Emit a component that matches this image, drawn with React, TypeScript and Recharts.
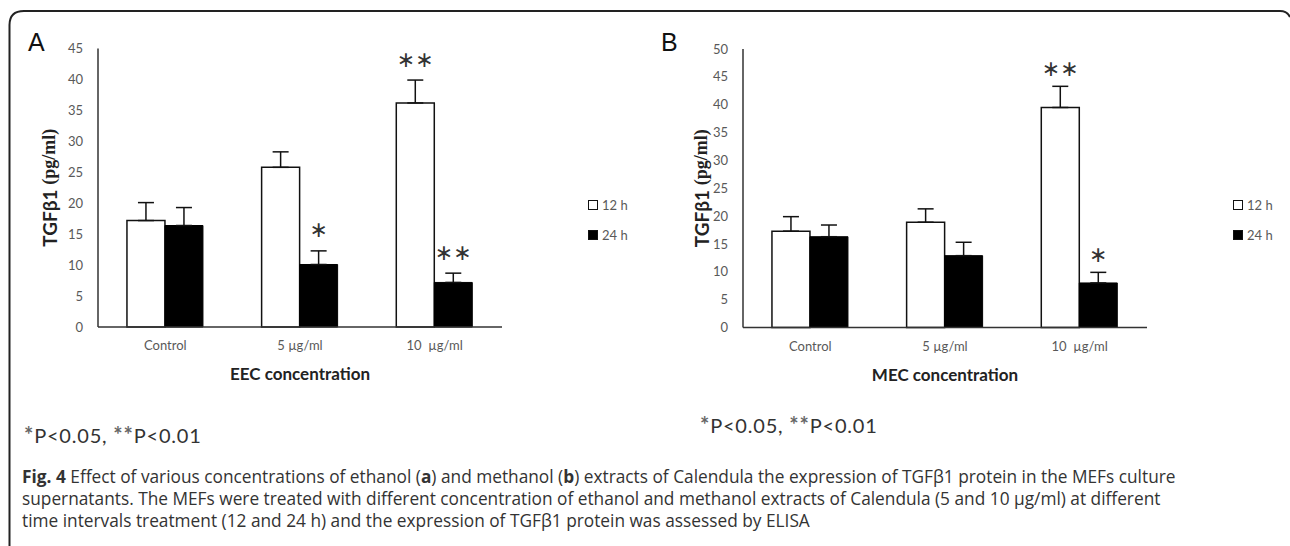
import { Bar, BarChart, ErrorBar, LabelList, Legend, XAxis, YAxis } from "recharts";

const categories = ["Control", "5 µg/ml", "10\u00a0 µg/ml"];

// panel A: ethanol extract (EEC)
const eec12h = [17.2, 25.8, 36.2];
const eec12hErr = [2.9, 2.5, 3.7];
const eec24h = [16.4, 10.1, 7.2];
const eec24hErr = [2.9, 2.2, 1.5];
const eec12hSig = ["", "", "**"];
const eec24hSig = ["", "*", "**"];
const eecTicks = [0, 5, 10, 15, 20, 25, 30, 35, 40, 45];

// panel B: methanol extract (MEC)
const mec12h = [17.3, 18.9, 39.5];
const mec12hErr = [2.6, 2.4, 3.8];
const mec24h = [16.3, 12.9, 8.0];
const mec24hErr = [2.1, 2.4, 1.9];
const mec12hSig = ["", "", "**"];
const mec24hSig = ["", "", "*"];
const mecTicks = [0, 5, 10, 15, 20, 25, 30, 35, 40, 45, 50];

const seriesNames = ["12 h", "24 h"];

type Row = {
  name: string;
  h12: number;
  h24: number;
  h12Err: [number, number];
  h24Err: [number, number];
  h12Sig: string;
  h24Sig: string;
};

function buildRows(v12: number[], e12: number[], v24: number[], e24: number[], s12: string[], s24: string[]): Row[] {
  return categories.map((name, i) => ({
    name,
    h12: v12[i],
    h24: v24[i],
    h12Err: [0, e12[i]],
    h24Err: [0, e24[i]],
    h12Sig: s12[i],
    h24Sig: s24[i],
  }));
}

const eecRows = buildRows(eec12h, eec12hErr, eec24h, eec24hErr, eec12hSig, eec24hSig);
const mecRows = buildRows(mec12h, mec12hErr, mec24h, mec24hErr, mec12hSig, mec24hSig);

const gray = "#595959";
const ink = "#222";

function YTitle({ viewBox, dist }: any) {
  const cx = viewBox.x + viewBox.width - dist;
  const cy = viewBox.y + viewBox.height / 2;
  return (
    <text
      x={cx}
      y={cy}
      transform={`rotate(-90 ${cx} ${cy})`}
      textAnchor="middle"
      dominantBaseline="central"
      fill={ink}
      fontWeight={700}
    >
      <tspan fontFamily="Lato" fontSize={19}>TGFβ1 </tspan>
      <tspan fontFamily="Liberation Serif" fontSize={18}>(pg/ml)</tspan>
    </text>
  );
}

function sigLabel(rows: Row[], key: "h12" | "h24", gap: number) {
  return (props: any) => {
    const { x, y, width, height, value, index } = props;
    if (!value) return null;
    const row = rows[index];
    const pxPerUnit = height / row[key];
    const errTop = y - row[`${key}Err`][1] * pxPerUnit;
    return (
      <text
        x={x + width / 2}
        y={errTop - gap}
        textAnchor="middle"
        dominantBaseline="central"
        fontFamily="DejaVu Sans"
        fontSize={22}
        fill="#333"
      >
        {value.replace(/\*/g, "∗")}
      </text>
    );
  };
}

function LegendBox() {
  return (
    <div style={{ fontFamily: "Lato", fontSize: 13, color: gray }}>
      {seriesNames.map((s, i) => (
        <div key={s} style={{ display: "flex", alignItems: "center", height: 30 }}>
          <span
            style={{
              width: 8,
              height: 8,
              border: "1.5px solid #111",
              background: i === 0 ? "#fff" : "#000",
              marginRight: 4,
            }}
          />
          {s}
        </div>
      ))}
    </div>
  );
}

function Panel({ rows, ticks, max, xTitle, titleDist, gapPx, top }: any) {
  return (
    <BarChart
      width={640}
      height={400}
      data={rows}
      margin={{ top, right: 78, bottom: 73 - 30 + (48.5 - top), left: 0 }}
      barCategoryGap="21.5%"
      barGap={0}
      style={{ fontFamily: "Lato" }}
    >
      <YAxis
        domain={[0, max]}
        ticks={ticks}
        interval={0}
        width={98}
        axisLine={{ stroke: "#333", strokeWidth: 1.5 }}
        tickLine={false}
        tickSize={0}
        tickMargin={15}
        tick={{ fill: gray, fontSize: 13, fontFamily: "Lato" }}
        label={<YTitle dist={titleDist} />}
      />
      <XAxis
        dataKey="name"
        height={30}
        axisLine={{ stroke: "#333", strokeWidth: 1.5 }}
        tickLine={false}
        tickSize={0}
        tickMargin={14}
        tick={{ fill: gray, fontSize: 13, fontFamily: "Lato" }}
        label={{ value: xTitle, position: "bottom", offset: 11, fill: ink, fontSize: 17, fontWeight: 700, fontFamily: "Lato" }}
      />
      <Legend
        layout="vertical"
        align="right"
        verticalAlign="top"
        content={<LegendBox />}
        wrapperStyle={{ left: 588, top: 190, width: 60 }}
      />
      <Bar dataKey="h12" name={seriesNames[0]} fill="#fff" stroke="#111" strokeWidth={1.5} isAnimationActive={false}>
        <ErrorBar dataKey="h12Err" direction="y" width={8} stroke="#111" strokeWidth={1.5} />
        <LabelList dataKey="h12Sig" content={sigLabel(rows, "h12", gapPx)} />
      </Bar>
      <Bar dataKey="h24" name={seriesNames[1]} fill="#000" stroke="#000" strokeWidth={1} isAnimationActive={false}>
        <ErrorBar dataKey="h24Err" direction="y" width={8} stroke="#111" strokeWidth={1.5} />
        <LabelList dataKey="h24Sig" content={sigLabel(rows, "h24", gapPx)} />
      </Bar>
    </BarChart>
  );
}

function Footnote({ left, baseline }: { left: number; baseline: number }) {
  const star = { color: "#666", fontSize: 22, fontWeight: 700 };
  return (
    <div
      style={{
        position: "absolute",
        left,
        top: baseline - 20,
        fontFamily: "Lato",
        fontSize: 20,
        lineHeight: "24px",
        letterSpacing: 0.8,
        color: "#333",
        whiteSpace: "pre",
      }}
    >
      <span style={star}>*</span>P&lt;0.05, <span style={star}>**</span>P&lt;0.01
    </div>
  );
}

export default function App() {
  return (
    <div style={{ position: "absolute", left: 0, top: 0, width: 1290, height: 546, overflow: "hidden", background: "#fff" }}>
      <svg width={1290} height={546} style={{ position: "absolute", left: 0, top: 0 }}>
        <path d="M 9.5 546 L 9.5 25 Q 9.5 11 24 11 L 1280 11 Q 1287 11 1290 17" fill="none" stroke="#222" strokeWidth={2} />
        <text x={28} y={51} fontFamily="Liberation Sans" fontSize={25} fill="#111">A</text>
        <text x={661} y={51} fontFamily="Liberation Sans" fontSize={25} fill="#111">B</text>
      </svg>
      <div style={{ position: "absolute", left: 0, top: 0 }}>
        <Panel rows={eecRows} ticks={eecTicks} max={45} xTitle="EEC concentration" titleDist={49} gapPx={21} top={48.5} />
      </div>
      <div style={{ position: "absolute", left: 645, top: 0 }}>
        <Panel rows={mecRows} ticks={mecTicks} max={50} xTitle="MEC concentration" titleDist={42} gapPx={18} top={49} />
      </div>
      <Footnote left={24} baseline={443} />
      <Footnote left={700} baseline={433} />
      <div
        style={{
          position: "absolute",
          left: 22,
          top: 466,
          fontFamily: "Open Sans",
          fontSize: 17.3,
          lineHeight: "22px",
          color: "#333",
          whiteSpace: "pre",
        }}
      >
        <b>Fig. 4</b> Effect of various concentrations of ethanol (<b>a</b>) and methanol (<b>b</b>) extracts of Calendula the expression of TGFβ1 protein in the MEFs culture{"\n"}
        supernatants. The MEFs were treated with different concentration of ethanol and methanol extracts of Calendula (5 and 10 µg/ml) at different{"\n"}
        time intervals treatment (12 and 24 h) and the expression of TGFβ1 protein was assessed by ELISA
      </div>
    </div>
  );
}
